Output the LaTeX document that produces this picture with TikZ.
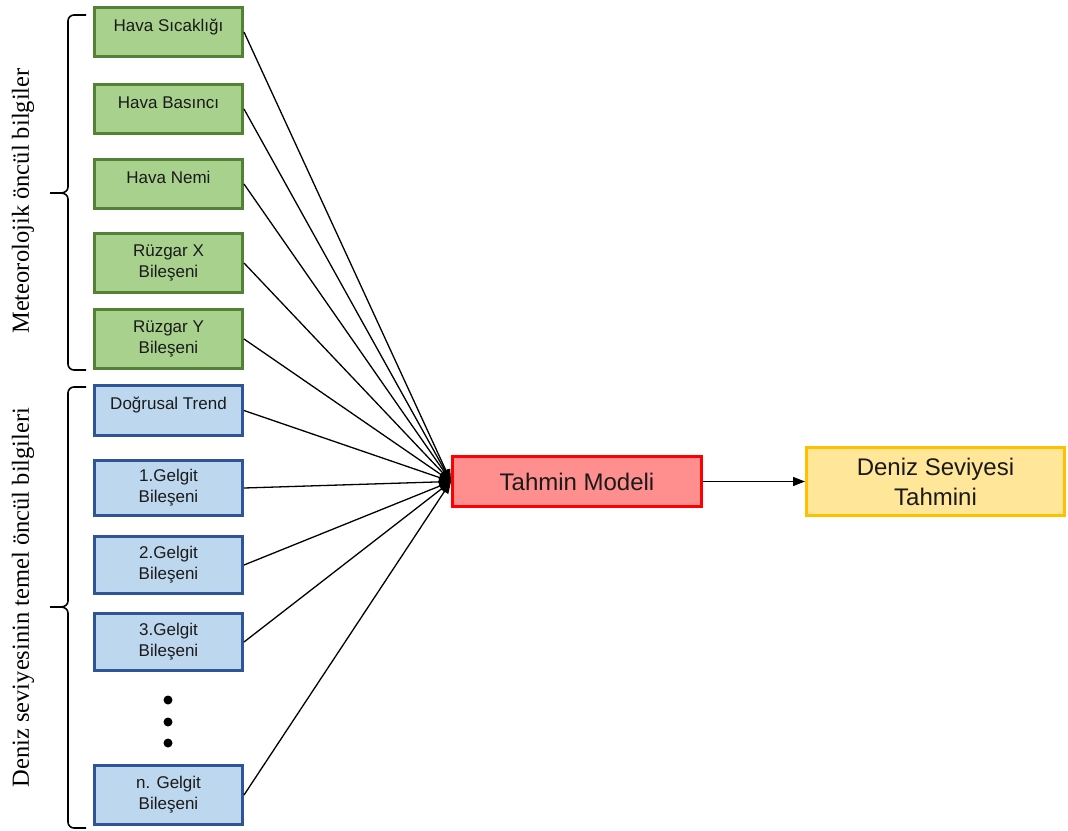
\documentclass[tikz,border=0pt]{standalone}
\usepackage{fontspec}
\setmainfont{Liberation Sans}
\newfontfamily\timesf{Liberation Serif}
\usetikzlibrary{arrows.meta}
\definecolor{gfill}{HTML}{A9D18E}
\definecolor{gdraw}{HTML}{548235}
\definecolor{bfill}{HTML}{BDD7EE}
\definecolor{bdraw}{HTML}{2F5597}
\definecolor{rfill}{HTML}{FF8F8F}
\definecolor{rdraw}{HTML}{FF0000}
\definecolor{yfill}{HTML}{FFE699}
\definecolor{ydraw}{HTML}{FFC000}
\definecolor{txt}{HTML}{1A1A1A}
\begin{document}
\begin{tikzpicture}[x=1pt,y=-1pt,
  box/.style={rectangle, line width=3pt, minimum width=148pt, text=txt,
    font=\fontsize{17}{21}\selectfont, align=center, inner sep=0pt},
  gbox/.style={box, fill=gfill, draw=gdraw},
  bbox/.style={box, fill=bfill, draw=bdraw},
  one/.style={text height=12pt, text depth=14pt},
  conn/.style={line width=1.3pt, -{Triangle[length=12pt,width=9pt]}},
  brace/.style={line width=1.6pt},
  sidelab/.style={rotate=90, text=black, font=\timesf\fontsize{24.5}{28}\selectfont},
  dot/.style={circle, fill=black, inner sep=0pt, minimum size=9pt}]
\useasboundingbox (0,0) rectangle (1068,830);
% green boxes
\node[gbox, one, minimum height=49pt] (g1) at (168.5,32) {Hava Sıcaklığı};
\node[gbox, one, minimum height=49pt] (g2) at (168.5,109) {Hava Basıncı};
\node[gbox, one, minimum height=49pt] (g3) at (168.5,184) {Hava Nemi};
\node[gbox, minimum height=59pt] (g4) at (168.5,263) {Rüzgar X\\Bileşeni};
\node[gbox, minimum height=59pt] (g5) at (168.5,339) {Rüzgar Y\\Bileşeni};
% blue boxes
\node[bbox, one, minimum height=50pt] (b1) at (168.5,410.5) {Doğrusal Trend};
\node[bbox, minimum height=55pt] (b2) at (168.5,488) {1.Gelgit\\Bileşeni};
\node[bbox, minimum height=57pt] (b3) at (168.5,565) {2.Gelgit\\Bileşeni};
\node[bbox, minimum height=57pt] (b4) at (168.5,642) {3.Gelgit\\Bileşeni};
\node[bbox, minimum height=59pt] (bn) at (168.5,795) {n. Gelgit\\Bileşeni};
% dots
\node[dot] (d1) at (168,700) {};
\node[dot] (d2) at (168,722) {};
\node[dot] (d3) at (168,743) {};
% model and output
\node[rectangle, line width=3pt, fill=rfill, draw=rdraw, minimum width=249pt,
  minimum height=50pt, text=txt, font=\fontsize{24}{30}\selectfont] (model) at (577,481.5) {Tahmin Modeli};
\node[rectangle, line width=3pt, fill=yfill, draw=ydraw, minimum width=258pt,
  minimum height=68pt, text=txt, align=center,
  font=\fontsize{24}{30}\selectfont] (out) at (935.5,481.5) {Deniz Seviyesi\\Tahmini};
% connectors
\foreach \n in {g1,g2,g3,g4,g5,b1,b2,b3,b4,bn}
  \draw[conn] (\n.east) -- (model.west);
\draw[conn] (model.east) -- (out.west);
% braces
\draw[brace] (86,15) -- (74,15) to[out=180,in=90] (68,21) -- (68,187)
  to[out=-90,in=0] (61,193) -- (50,193);
\draw[brace] (50,193) -- (61,193) to[out=0,in=90] (68,199) -- (68,364)
  to[out=-90,in=180] (74,370) -- (86,370);
\draw[brace] (86,387) -- (74,387) to[out=180,in=90] (68,393) -- (68,601)
  to[out=-90,in=0] (61,607) -- (50,607);
\draw[brace] (50,607) -- (61,607) to[out=0,in=90] (68,613) -- (68,822)
  to[out=-90,in=180] (74,828) -- (86,828);
% side labels
\node[sidelab] (lab1) at (23,201) {Meteorolojik öncül bilgiler};
\node[sidelab] (lab2) at (23,597.5) {Deniz seviyesinin temel öncül bilgileri};
\end{tikzpicture}
\end{document}
